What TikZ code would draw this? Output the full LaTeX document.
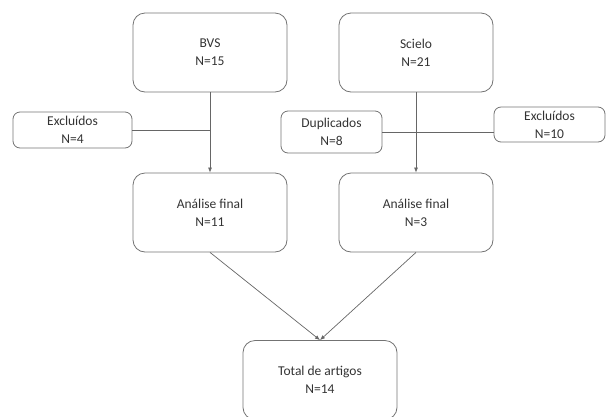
\documentclass[tikz,border=0pt]{standalone}
\usepackage{fontspec}
\setmainfont{Carlito}
\usetikzlibrary{arrows.meta}
\begin{document}
\begin{tikzpicture}[x=1pt,y=-1pt,
  box/.style={draw=black!55, line width=0.8pt, rounded corners=12pt, align=center, inner sep=0pt, font=\fontsize{13.5}{18}\selectfont, text=black!80},
  bigbox/.style={box, minimum width=154pt, minimum height=79pt},
  smallbox/.style={box, rounded corners=7pt},
  conn/.style={draw=black!60, line width=0.7pt},
  arr/.style={conn, -{Latex[length=5pt,width=4pt]}}]
\useasboundingbox (0,0) rectangle (610,416);
\node[bigbox] (bvs) at (210,52.5) {BVS\\N=15};
\node[bigbox] (sci) at (416,52.5) {Scielo\\N=21};
\node[bigbox] (an1) at (210,212.5) {Análise final\\N=11};
\node[bigbox] (an2) at (416,212.5) {Análise final\\N=3};
\node[bigbox] (tot) at (320,380) {Total de artigos\\N=14};
\node[smallbox, minimum width=119pt, minimum height=36pt] (exl) at (72.5,130) {Excluídos\\N=4};
\node[smallbox, minimum width=101pt, minimum height=42pt] (dup) at (331.5,132) {Duplicados\\N=8};
\node[smallbox, minimum width=111pt, minimum height=35pt] (exr) at (549.5,124.5) {Excluídos\\N=10};
\draw[arr] (bvs.south) -- (an1.north);
\draw[arr] (sci.south) -- (an2.north);
\draw[conn] (exl.east) -- (exl.east -| bvs.south);
\draw[conn] (dup.east) -- (exr.west |- dup.east);
\draw[arr] (an1.south) -- (tot.north);
\draw[arr] (an2.south) -- (tot.north);
\end{tikzpicture}
\end{document}
